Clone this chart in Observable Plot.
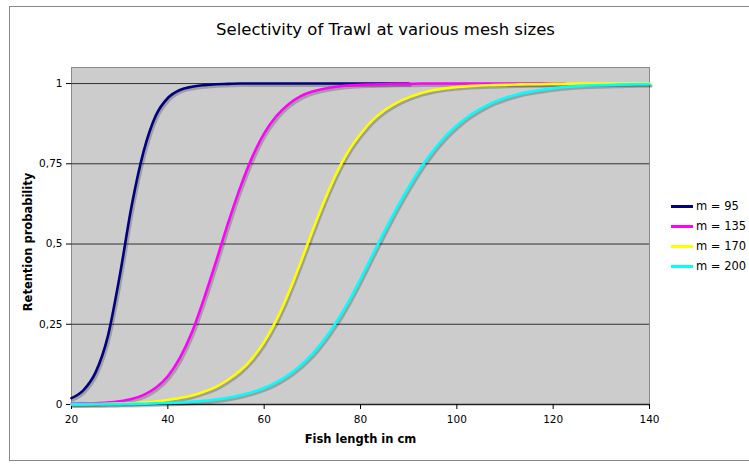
<!DOCTYPE html>
<html>
<head>
<meta charset="utf-8">
<script src="https://cdn.jsdelivr.net/npm/d3@7"></script>
<script src="https://cdn.jsdelivr.net/npm/@observablehq/plot@0.6"></script>
<style>
  html, body { margin: 0; padding: 0; background: #fff; }
  #wrap { position: relative; width: 749px; height: 464px; overflow: hidden; font-family: "DejaVu Sans", Verdana, sans-serif; }
  #border { position: absolute; left: 9px; top: 6px; width: 800px; height: 455px; border: 1.5px solid #888; box-sizing: border-box; }
  #chart { position: absolute; left: 0; top: 0; }
  #legend { position: absolute; left: 671px; top: 196px; font-size: 11.5px; color: #000; white-space: nowrap; }
  .row { height: 20px; display: flex; align-items: center; }
  .sw { display: inline-block; width: 22px; height: 3px; margin-right: 3px; }
</style>
</head>
<body>
<div id="wrap">
  <div id="border"></div>
  <div id="chart"></div>
  <div id="legend"></div>
</div>
<script>
const title = "Selectivity of Trawl at various mesh sizes";
const xTitle = "Fish length in cm";
const yTitle = "Retention probability";

const xTicks = [20, 40, 60, 80, 100, 120, 140];
const yTicks = [0, 0.25, 0.5, 0.75, 1];
const yTickLabels = ["0", "0,25", "0,5", "0,75", "1"];

const seriesNames = ["m = 95", "m = 135", "m = 170", "m = 200"];
const seriesColors = ["#000080", "#ff00ff", "#ffff00", "#00ffff"];

// fish length (cm)
const lengths = [20, 22.5, 25, 27.5, 30, 32.5, 35, 37.5, 40, 42.5, 45, 47.5, 50, 52.5, 55, 57.5,
  60, 62.5, 65, 67.5, 70, 72.5, 75, 77.5, 80, 82.5, 85, 87.5, 90, 92.5, 95, 97.5, 100, 102.5,
  105, 107.5, 110, 112.5, 115, 117.5, 120, 122.5, 125, 127.5, 130, 132.5, 135, 137.5, 140];

const m95 = [0.02, 0.045, 0.10, 0.21, 0.40, 0.62, 0.79, 0.90, 0.955, 0.98, 0.99, 0.995, 0.998, 0.999,
  1, 1, 1, 1, 1, 1, 1, 1, 1, 1, 1, 1, 1, 1, 1,
  null, null, null, null, null, null, null, null, null, null, null, null, null, null, null, null, null, null, null, null];

const m135 = [0.002, 0.003, 0.004, 0.006, 0.010, 0.017, 0.030, 0.052, 0.088, 0.145, 0.225, 0.33, 0.445,
  0.565, 0.675, 0.77, 0.845, 0.898, 0.935, 0.96, 0.975, 0.984, 0.99, 0.994, 0.996, 0.997, 0.998, 0.999, 0.999,
  1, 1, 1, 1, 1, 1, 1, 1, 1, 1, 1, 1, 1,
  null, null, null, null, null, null, null];

const m170 = [0.001, 0.001, 0.0015, 0.002, 0.003, 0.004, 0.006, 0.009, 0.014, 0.02, 0.028, 0.04, 0.055,
  0.077, 0.105, 0.143, 0.195, 0.262, 0.345, 0.44, 0.54, 0.635, 0.72, 0.79, 0.843, 0.886, 0.917, 0.94, 0.957,
  0.97, 0.979, 0.985, 0.989, 0.992, 0.994, 0.995, 0.996, 0.997, 0.998, 0.998, 0.999, 0.999,
  1, 1, 1, 1, 1, 1, 1];

const m200 = [0.0004, 0.0005, 0.0007, 0.001, 0.0013, 0.0018, 0.0025, 0.0034, 0.0046, 0.0062,
  0.0085, 0.0115, 0.0156, 0.0211, 0.0285, 0.0384, 0.0515, 0.0689, 0.0916, 0.121,
  0.157, 0.203, 0.257, 0.32, 0.391, 0.466, 0.54, 0.611, 0.677, 0.737,
  0.789, 0.833, 0.869, 0.899, 0.922, 0.941, 0.955, 0.966, 0.974, 0.98,
  0.985, 0.989, 0.992, 0.994, 0.995, 0.996, 0.997, 0.998, 0.998];

const seriesValues = [m95, m135, m170, m200];

const rows = seriesValues.flatMap((vals, si) =>
  lengths.map((x, i) => ({x, y: vals[i], s: seriesNames[si], c: seriesColors[si]}))
    .filter(d => d.y != null)
);

const plot = Plot.plot({
  width: 749,
  height: 464,
  marginLeft: 71,
  marginRight: 100,
  marginTop: 67,
  marginBottom: 60,
  style: {fontFamily: "DejaVu Sans, Verdana, sans-serif", fontSize: "10.5px", background: "transparent", overflow: "visible", color: "#000"},
  x: {domain: [20, 140], label: null},
  y: {domain: [0, 1.05], label: null},
  color: {type: "identity"},
  marks: [
    Plot.frame({fill: "#cccccc", stroke: "#8a8a8a"}),
    Plot.ruleY(yTicks.filter(d => d > 0), {stroke: "#333", strokeWidth: 1}),
    Plot.ruleY([0], {stroke: "#222", strokeWidth: 1.3}),
    Plot.axisX({ticks: xTicks, tickSize: 5, tickPadding: 6, tickFormat: d => String(d), label: null}),
    Plot.axisY({ticks: yTicks, tickSize: 5, tickPadding: 4, tickFormat: d => yTickLabels[yTicks.indexOf(d)], label: null}),
    Plot.line(rows, {x: "x", y: "y", z: "s", stroke: "#000", strokeOpacity: 0.22, strokeWidth: 3, dx: 1.5, dy: 2, curve: "monotone-x"}),
    Plot.line(rows, {x: "x", y: "y", z: "s", stroke: "c", strokeWidth: 2.6, curve: "monotone-x"}),
    Plot.text([title], {frameAnchor: "top", dx: 25, dy: -38, fontSize: 16.5, textAnchor: "middle", lineAnchor: "middle", text: d => d}),
    Plot.text([xTitle], {frameAnchor: "bottom", dy: 35, fontSize: 11.5, fontWeight: "bold", textAnchor: "middle", lineAnchor: "middle", text: d => d}),
    Plot.text([yTitle], {frameAnchor: "left", dx: -43, dy: 6, rotate: -90, fontSize: 11.5, fontWeight: "bold", textAnchor: "middle", lineAnchor: "middle", text: d => d})
  ]
});
document.getElementById("chart").appendChild(plot);

const legend = document.getElementById("legend");
seriesNames.forEach((name, i) => {
  const row = document.createElement("div");
  row.className = "row";
  const sw = document.createElement("span");
  sw.className = "sw";
  sw.style.background = seriesColors[i];
  const t = document.createElement("span");
  t.textContent = name;
  row.appendChild(sw);
  row.appendChild(t);
  legend.appendChild(row);
});
</script>
</body>
</html>
